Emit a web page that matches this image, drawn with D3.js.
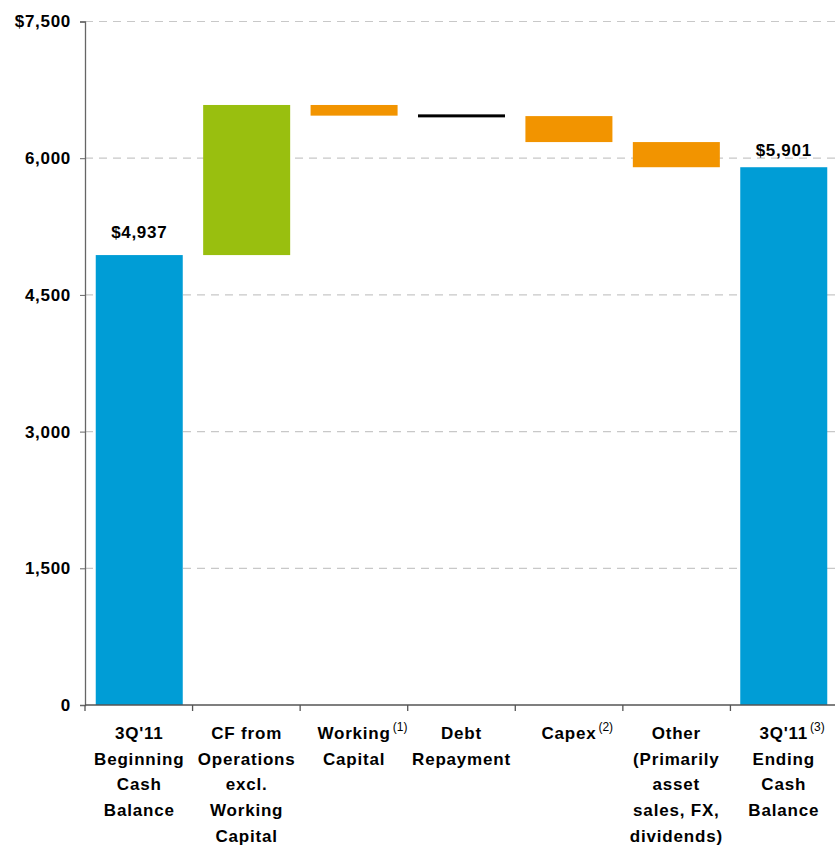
<!DOCTYPE html>
<meta charset="utf-8">
<script src="https://d3js.org/d3.v7.min.js"></script>
<style>
  body { margin: 0; background: #fff; }
  svg text { font-family: "Liberation Sans", Arial, sans-serif; }
</style>
<div id="chart"></div>
<script>
// categories (one array of lines per bar) and footnote markers
var categories = [
  ["3Q'11", "Beginning", "Cash", "Balance"],
  ["CF from", "Operations", "excl.", "Working", "Capital"],
  ["Working", "Capital"],
  ["Debt", "Repayment"],
  ["Capex"],
  ["Other", "(Primarily", "asset", "sales, FX,", "dividends)"],
  ["3Q'11", "Ending", "Cash", "Balance"]
];
var notes = ["", "", "(1)", "", "(2)", "", "(3)"];

// bar kind: total / up / down / line
var kinds = ["total", "up", "down", "line", "down", "down", "total"];
// values: totals are levels, the rest are changes
var values = [4937, 1647, -117, -5, -285, -276, 5901];
var valueLabels = ["$4,937", "", "", "", "", "", "$5,901"];

var yTicks = [0, 1500, 3000, 4500, 6000, 7500];
var yTickLabels = ["0", "1,500", "3,000", "4,500", "6,000", "$7,500"];

var colors = { total: "#009DD6", up: "#99BF0F", down: "#F29400", line: "#000000" };
// gap between bar top and its value label (the two labels sit differently)
var labelGap = { 0: 17, 6: 11 };

var margin = {top: 21.5, right: 0, bottom: 141, left: 85},
    width = 753,
    height = 846 - margin.top - margin.bottom;

var svg = d3.select("#chart").append("svg")
    .attr("width", 835).attr("height", 846)
  .append("g")
    .attr("transform", "translate(" + margin.left + "," + margin.top + ")");

var x = d3.scaleBand()
    .domain(d3.range(categories.length))
    .range([0, width])
    .paddingInner(0.19)
    .paddingOuter(0.1);

var xEdge = d3.scaleLinear().domain([0, categories.length]).range([0, width]);

var y = d3.scaleLinear().domain([0, 7500]).range([height, 0]);

// running totals -> [start, end] per bar
var bars = [], run = 0;
values.forEach(function(v, i) {
  var k = kinds[i];
  if (k == "total") { bars.push({i: i, k: k, lo: 0, hi: v}); run = v; }
  else { bars.push({i: i, k: k, lo: Math.min(run, run + v), hi: Math.max(run, run + v)}); run += v; }
});

// gridlines
svg.append("g").selectAll("line")
  .data(yTicks.filter(function(d) { return d > 0; }))
  .enter().append("line")
    .attr("x1", 0).attr("x2", width)
    .attr("y1", function(d) { return y(d); }).attr("y2", function(d) { return y(d); })
    .attr("stroke", "#c8c8c8").attr("stroke-width", 1.2)
    .attr("stroke-dasharray", "8,6");

// bars
svg.append("g").selectAll("rect")
  .data(bars)
  .enter().append("rect")
    .attr("x", function(d) { return x(d.i); })
    .attr("width", x.bandwidth())
    .attr("y", function(d) {
      var h = y(d.lo) - y(d.hi);
      return h < 3 ? (y(d.lo) + y(d.hi)) / 2 - 1.5 : y(d.hi);
    })
    .attr("height", function(d) { return Math.max(3, y(d.lo) - y(d.hi)); })
    .attr("fill", function(d) { return colors[d.k]; });

// value labels
svg.append("g").selectAll("text")
  .data(bars.filter(function(d) { return valueLabels[d.i]; }))
  .enter().append("text")
    .attr("x", function(d) { return x(d.i) + x.bandwidth() / 2; })
    .attr("y", function(d) { return y(d.hi) - labelGap[d.i]; })
    .attr("text-anchor", "middle")
    .style("font-size", "17px").style("font-weight", "bold")
    .style("letter-spacing", "0.7px")
    .text(function(d) { return valueLabels[d.i]; });

// y axis
var yAxis = svg.append("g")
  .call(d3.axisLeft(y).tickValues(yTicks).tickSize(5).tickPadding(9)
    .tickFormat(function(d, i) { return yTickLabels[i]; }));
yAxis.select(".domain").attr("stroke", "#666").attr("stroke-width", 1.3);
yAxis.selectAll(".tick line").attr("stroke", "#666");
yAxis.selectAll("text").style("font-size", "17px").style("font-weight", "bold")
  .style("letter-spacing", "0.7px")
  .style("font-family", "'Liberation Sans', Arial, sans-serif").attr("fill", "#000");

// x axis line + ticks at category edges
svg.append("line")
  .attr("x1", 0).attr("x2", width).attr("y1", height).attr("y2", height)
  .attr("stroke", "#555").attr("stroke-width", 1.3);
svg.append("g").selectAll("line")
  .data(d3.range(categories.length + 1))
  .enter().append("line")
    .attr("x1", function(d) { return xEdge(d); }).attr("x2", function(d) { return xEdge(d); })
    .attr("y1", height).attr("y2", height + 6)
    .attr("stroke", "#555").attr("stroke-width", 1.3);

// category labels
var cat = svg.append("g").selectAll("g")
  .data(categories)
  .enter().append("g")
    .attr("transform", function(d, i) {
      return "translate(" + (x(i) + x.bandwidth() / 2) + "," + (height + 34) + ")";
    });
cat.each(function(lines, i) {
  var g = d3.select(this);
  lines.forEach(function(t, j) {
    var tx = g.append("text")
      .attr("y", j * 25.7)
      .attr("text-anchor", "middle")
      .style("font-size", "17px").style("font-weight", "bold")
      .style("letter-spacing", "0.8px")
      .text(t);
    if (j == 0 && notes[i]) {
      var w = tx.node().getComputedTextLength();
      g.append("text")
        .attr("x", w / 2 + 2).attr("y", -8)
        .style("font-size", "12px")
        .text(notes[i]);
    }
  });
});
</script>
